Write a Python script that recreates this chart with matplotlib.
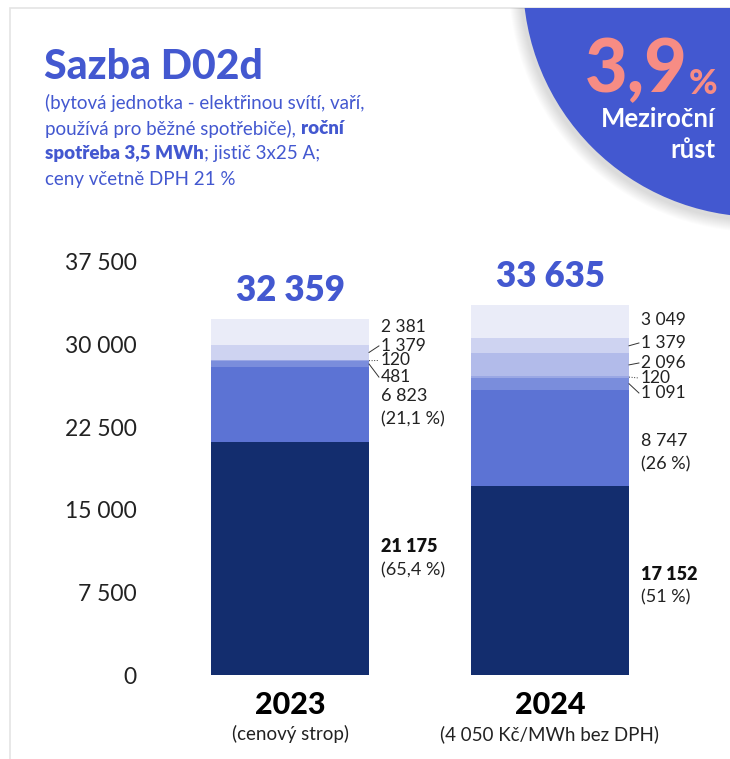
import matplotlib
matplotlib.use("Agg")
import matplotlib.pyplot as plt
from matplotlib.patches import Circle, Rectangle
from matplotlib.ticker import FuncFormatter

# ---------------- data ----------------
years = ["2023", "2024"]
year_notes = ["(cenový strop)", "(4 050 Kč/MWh bez DPH)"]
totals = [32359, 33635]
# segments bottom -> top
seg_2023 = [21175, 6823, 481, 120, 0, 1379, 2381]
seg_2024 = [17152, 8747, 1091, 120, 2096, 1379, 3049]
share_2023 = {0: "(65,4 %)", 1: "(21,1 %)"}
share_2024 = {0: "(51 %)", 1: "(26 %)"}
yticks = [0, 7500, 15000, 22500, 30000, 37500]
growth = "3,9"

seg_colors = ["#132D6E", "#5C73D4", "#7A8DDC", "#9AA7E4", "#B2BBEA", "#CED3F1", "#EAECF8"]

# label layout (data units for label anchors, per segment; None = no label)
lab_2023 = [10587, 24290, 27050, 28560, None, 29880, 31601]
lab_2024 = [8081, 20160, 25606, 26968, 28330, 30146, 32240]
leader = [None, None, "solid", "dotted", "solid", "solid", None]

def fmt(v):
    return f"{int(v):,}".replace(",", " ")

W, H = 730, 759
fig = plt.figure(figsize=(W / 100, H / 100), dpi=100)
fig.patch.set_facecolor("white")

# background / decoration axes in pixel coordinates
bg = fig.add_axes([0, 0, 1, 1], zorder=0)
bg.set_xlim(0, W)
bg.set_ylim(H, 0)
bg.axis("off")

card = Rectangle((10, 8), 800, 800, facecolor="white", edgecolor="#E4E4E4", lw=1.2, zorder=1)
bg.add_patch(card)

# circle shadow
cx, cy, r = 760, -20, 237
for k in range(12, 0, -1):
    sh = Circle((cx - 2, cy + 3), r + k, facecolor="#000000", alpha=0.012, edgecolor="none", zorder=2)
    bg.add_patch(sh)
    sh.set_clip_path(card)
circ = Circle((cx, cy), r, facecolor="#4358D0", edgecolor="none", zorder=3)
bg.add_patch(circ)
circ.set_clip_path(card)

blue = "#4358D0"
FONT = "Lato"

# growth text
bg.text(688, 71, growth, ha="right", va="center", fontsize=53, color="#F78C84",
        fontweight="black", family=FONT, zorder=5)
bg.text(689, 84, "%", ha="left", va="center", fontsize=25, color="#F78C84",
        fontweight="black", family=FONT, zorder=5)
bg.text(715, 119, "Meziroční", ha="right", va="center", fontsize=18.5, color="white",
        fontweight="bold", family=FONT, zorder=5)
bg.text(715, 150, "růst", ha="right", va="center", fontsize=18.5, color="white",
        fontweight="bold", family=FONT, zorder=5)

# title
bg.text(44, 67, "Sazba D02d", ha="left", va="center", fontsize=29.5, color=blue,
        fontweight="black", family=FONT, zorder=5)

renderer = fig.canvas.get_renderer()

def rich_line(x, y, parts, size=13.5):
    for txt, bold in parts:
        t = bg.text(x, y, txt, ha="left", va="center", fontsize=size, color=blue,
                    fontweight="heavy" if bold else "normal", family=FONT, zorder=5)
        bb = t.get_window_extent(renderer=renderer)
        x += bb.width * (W / fig.bbox.width)

sub_lines = [
    [("(bytová jednotka - elektřinou svítí, vaří,", False)],
    [("používá pro běžné spotřebiče), ", False), ("roční", True)],
    [("spotřeba 3,5 MWh", True), ("; jistič 3x25 A;", False)],
    [("ceny včetně DPH 21 %", False)],
]
for i, parts in enumerate(sub_lines):
    rich_line(45, 103 + i * 25.5, parts)

# ---------------- chart ----------------
ax_left, ax_right, ax_top, ax_bot = 160, 680, 262, 675
ax = fig.add_axes([ax_left / W, (H - ax_bot) / H, (ax_right - ax_left) / W, (ax_bot - ax_top) / H],
                  zorder=4)
ax.patch.set_alpha(0)
ax.set_xlim(-0.5, 1.5)
ax.set_ylim(0, 37500)
for s in ax.spines.values():
    s.set_visible(False)
ax.set_yticks(yticks)
ax.yaxis.set_major_formatter(FuncFormatter(lambda v, p: fmt(v)))
ax.tick_params(axis="y", length=0, pad=17, labelsize=16.5, labelcolor="#222222")
for lab in ax.get_yticklabels():
    lab.set_family(FONT)
ax.set_xticks([])

bw = 0.608
segs_all = [seg_2023, seg_2024]
labs_all = [lab_2023, lab_2024]
shares_all = [share_2023, share_2024]
for i, segs in enumerate(segs_all):
    bottom = 0
    for j, v in enumerate(segs):
        if v > 0:
            ax.bar(i, v, bottom=bottom, width=bw, color=seg_colors[j], edgecolor="none", zorder=3)
        mid = bottom + v / 2
        ly = labs_all[i][j]
        lx = i + bw / 2 + 0.046
        if ly is not None:
            if j in shares_all[i]:
                ax.annotate(fmt(v), (lx, ly), xytext=(0, 8.3), textcoords="offset points",
                            ha="left", va="center", fontsize=13,
                            fontweight="heavy" if j == 0 else "normal", family=FONT,
                            color="#111111" if j == 0 else "#222222")
                ax.annotate(shares_all[i][j], (lx, ly), xytext=(0, -8.3), textcoords="offset points",
                            ha="left", va="center", fontsize=13, family=FONT, color="#222222")
            else:
                ax.text(lx, ly, fmt(v), ha="left", va="center", fontsize=12.5,
                        family=FONT, color="#222222")
            if leader[j] is not None:
                ax.plot([i + bw / 2, lx - 0.008], [mid, ly], color="#333333", lw=0.7,
                        linestyle=":" if leader[j] == "dotted" else "-", zorder=4, clip_on=False)
        bottom += v
    ax.annotate(fmt(totals[i]), (i, bottom), xytext=(0, 20), textcoords="offset points",
                ha="center", va="center", fontsize=25, fontweight="heavy", color=blue,
                family=FONT, annotation_clip=False)
    ax.annotate(years[i], (i, 0), xytext=(0, -21.5), textcoords="offset points",
                ha="center", va="center", fontsize=22, fontweight="black", color="black",
                family=FONT, annotation_clip=False)
    ax.annotate(year_notes[i], (i, 0), xytext=(0, -42.5), textcoords="offset points",
                ha="center", va="center", fontsize=13.5, color="#222222",
                family=FONT, annotation_clip=False)

fig.savefig("out.png", dpi=100, facecolor="white")
